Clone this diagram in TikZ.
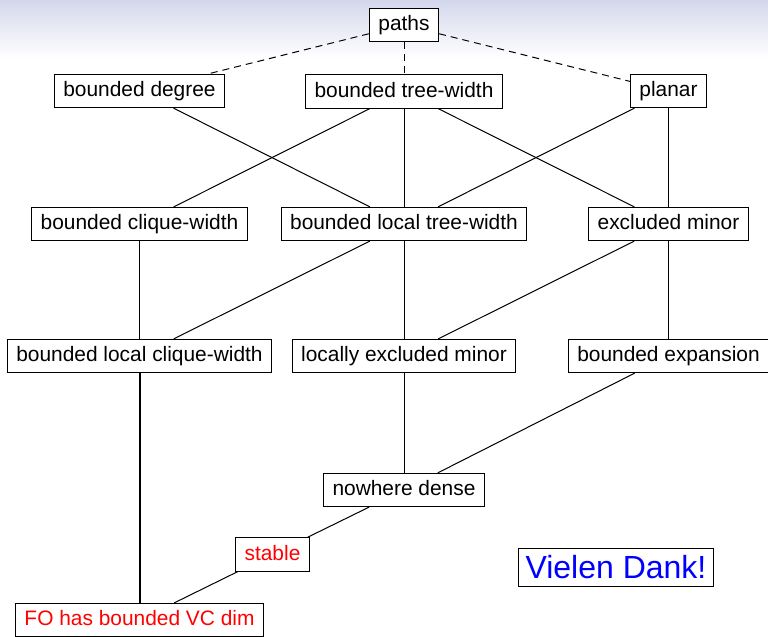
\documentclass[tikz,border=0pt]{standalone}
\usepackage{fontspec}
\setmainfont{Liberation Sans}
\begin{document}
\begin{tikzpicture}[x=0.5pt,y=-0.5pt,
  box/.style={draw=black,line width=0.5pt,fill=white,inner xsep=4.5pt,inner ysep=3.3pt,
    text height=7.8pt,text depth=2.2pt,font=\fontsize{10.45}{12}\selectfont},
  hot/.style={box,text=red},
  thanks/.style={draw=black,line width=0.5pt,fill=white,inner xsep=3.5pt,inner ysep=3.6pt,
    text height=11.8pt,text depth=0.4pt,text=blue,font=\fontsize{16}{19}\selectfont},
  link/.style={line width=0.5pt},
  weak/.style={line width=0.5pt,dash pattern=on 3.5pt off 2.5pt},
  strong/.style={line width=1pt}]
\useasboundingbox (0,0) rectangle (768,637);
% header shading
\shade[top color={rgb,255:red,212;green,215;blue,236},bottom color=white] (0,0) rectangle (768,58);

% nodes
\node[box] (paths)  at (404,25)    {paths};
\node[box] (bdeg)   at (139.5,91)  {bounded degree};
\node[box] (btw)    at (404,91.5)  {bounded tree-width};
\node[box] (planar) at (668.5,91)  {planar};
\node[box] (bcw)    at (139.5,224) {bounded clique-width};
\node[box] (bltw)   at (404,224)   {bounded local tree-width};
\node[box] (exmin)  at (668.5,224) {excluded minor};
\node[box] (blcw)   at (139.5,356) {bounded local clique-width};
\node[box] (lem)    at (404,356)   {locally excluded minor};
\node[box] (bexp)   at (668.5,356) {bounded expansion};
\node[box] (nd)     at (404,490)   {nowhere dense};
\node[hot] (stable) at (272.5,554.5) {stable};
\node[hot] (fo)     at (139.5,620) {FO has bounded VC dim};
\node[thanks] (vd)  at (616,567.5) {Vielen Dank!};

% connectors
\draw[weak] (paths) -- (bdeg);
\draw[weak] (paths) -- (btw);
\draw[weak] (paths) -- (planar);
\draw[link] (bdeg) -- (bltw);
\draw[link] (btw) -- (bcw);
\draw[link] (btw) -- (bltw);
\draw[link] (btw) -- (exmin);
\draw[link] (planar) -- (bltw);
\draw[link] (planar) -- (exmin);
\draw[link] (bcw) -- (blcw);
\draw[link] (bltw) -- (blcw);
\draw[link] (bltw) -- (lem);
\draw[link] (exmin) -- (lem);
\draw[link] (exmin) -- (bexp);
\draw[link] (lem) -- (nd);
\draw[link] (bexp) -- (nd);
\draw[link] (nd) -- (stable);
\draw[link] (stable) -- (fo);
\draw[strong] (blcw) -- (fo);
\end{tikzpicture}
\end{document}
